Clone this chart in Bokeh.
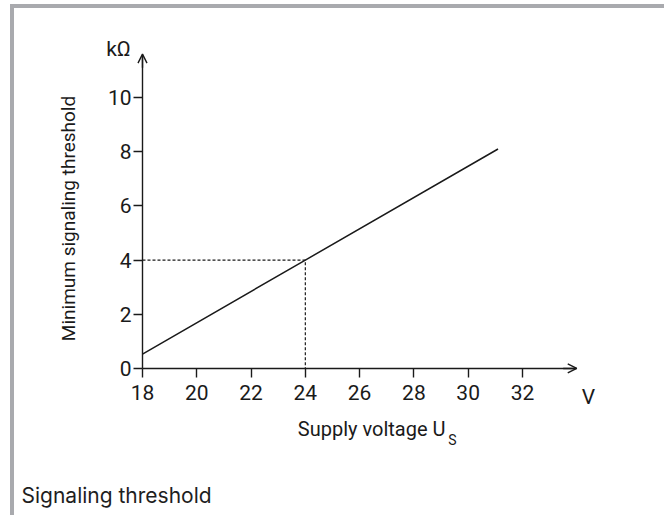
import math
from bokeh.plotting import figure
from bokeh.models import Range1d, FixedTicker, Label, Arrow, OpenHead, Title
from bokeh.embed import file_html
from bokeh.resources import INLINE

# data
voltage = [18, 24, 31.1]
threshold = [0.53, 4.0, 8.1]
ref_v = [18, 24, 24]
ref_k = [4, 4, 0]
x_ticks = [18, 20, 22, 24, 26, 28, 30, 32]
y_ticks = [0, 2, 4, 6, 8, 10]
x_title = "Supply voltage U"
x_sub = "S"
y_title = "Minimum signaling threshold"
x_unit = "V"
y_unit = "kΩ"
caption = "Signaling threshold"

INK = "#1a1a1a"
FONT = "Roboto"
FRAME_GRAY = "#a9aaae"

W, H = 654, 511
LEFT, BOTTOM = 40, 50

p = figure(width=W, height=H, title=None,
           x_range=Range1d(14.758, 37.381), y_range=Range1d(-3.727, 13.284),
           output_backend="svg", toolbar_location=None,
           min_border_left=LEFT, min_border_right=0,
           min_border_top=0, min_border_bottom=BOTTOM)
p.styles = {"margin-left": "10px", "margin-top": "4px",
            "border-left": f"4px solid {FRAME_GRAY}",
            "border-top": f"4px solid {FRAME_GRAY}"}
p.outline_line_color = None
p.grid.visible = False

for ax in (p.xaxis[0], p.yaxis[0]):
    ax.major_tick_in = 0
    ax.major_tick_out = 9
    ax.minor_tick_line_color = None
    ax.axis_line_color = INK
    ax.axis_line_width = 1.4
    ax.major_tick_line_color = INK
    ax.major_tick_line_width = 1.4
    ax.major_label_text_font = FONT
    ax.major_label_text_font_size = "21px"
    ax.major_label_text_color = INK

p.xaxis.ticker = FixedTicker(ticks=x_ticks)
p.yaxis.ticker = FixedTicker(ticks=y_ticks)
p.xaxis.fixed_location = 0
p.yaxis.fixed_location = 18
p.xaxis.bounds = (18, 34.0)
p.yaxis.bounds = (0, 11.6)
p.xaxis.major_label_standoff = 8
p.yaxis.major_label_standoff = 2

# arrow heads on axes
p.add_layout(Arrow(end=OpenHead(size=9, line_width=1.4, line_color=INK),
                   x_start=33.5, y_start=0, x_end=34.0, y_end=0,
                   line_color=INK, line_width=1.4))
p.add_layout(Arrow(end=OpenHead(size=9, line_width=1.4, line_color=INK),
                   x_start=18, y_start=11.1, x_end=18, y_end=11.6,
                   line_color=INK, line_width=1.4))

# data lines
p.line(ref_v, ref_k, line_color=INK, line_width=1.2, line_dash="3 2")
p.line(voltage, threshold, line_color=INK, line_width=1.5)

def scr_label(text, sx, sy, size, align="center", angle=0.0, color=INK, font=FONT):
    p.add_layout(Label(x=sx, y=sy, x_units="screen", y_units="screen", text=text,
                       text_font=font, text_font_size=size, angle=angle,
                       text_color=color, text_align=align, text_baseline="middle"))

scr_label(x_unit, 534, 73, "21px")
scr_label(y_unit, 64, 421, "21px")
scr_label(x_title, 391, 41, "20px", align="right")
scr_label(x_sub, 398, 30, "14px")
scr_label(y_title, 14, 251, "19px", angle=math.pi / 2)

p.add_layout(Title(text=caption, align="left", offset=-33, standoff=23,
                   text_font="Inter", text_font_size="21px", text_font_style="normal",
                   text_color="#1e1e1e"), "below")

open("out.html", "w").write(file_html(p, INLINE))
